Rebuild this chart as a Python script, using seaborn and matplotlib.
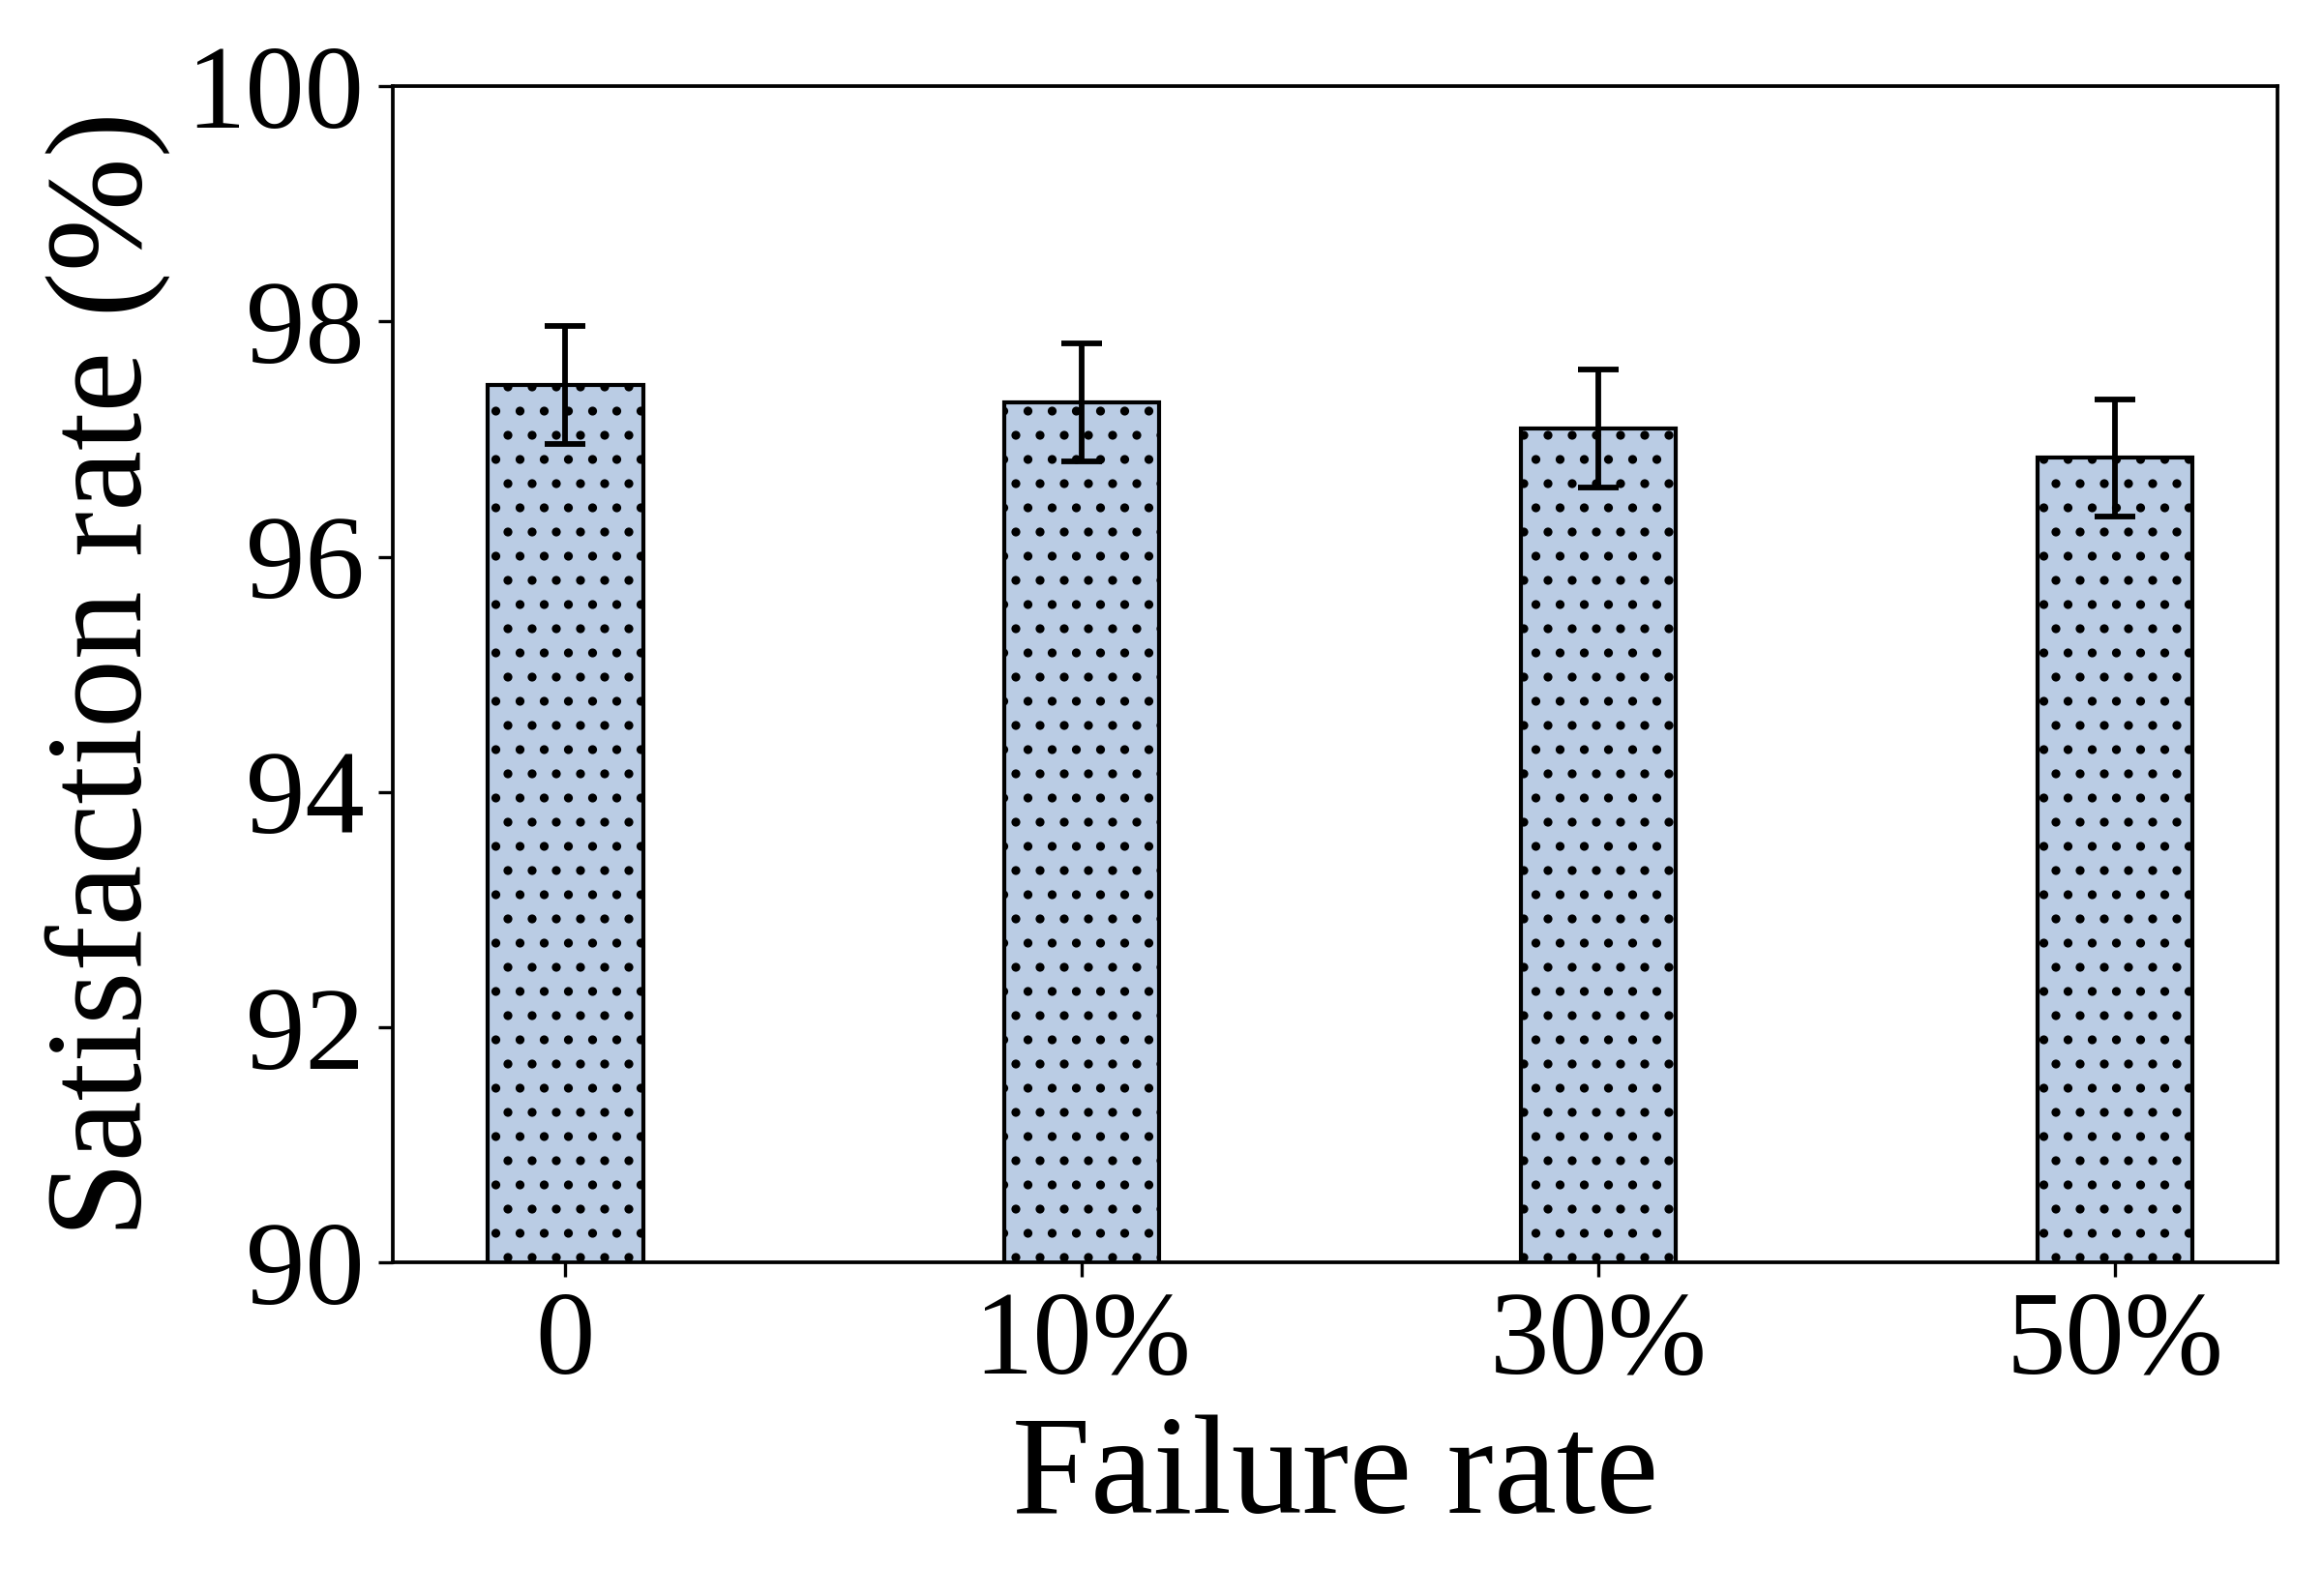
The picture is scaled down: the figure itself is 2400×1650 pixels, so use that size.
import matplotlib
matplotlib.use("Agg")
import matplotlib.pyplot as plt
import pandas as pd
import seaborn as sns

# Data
failure_rates = ["0", "10%", "30%", "50%"]
satisfaction = [97.46, 97.31, 97.09, 96.84]
errors = [0.50, 0.50, 0.50, 0.50]

df = pd.DataFrame({"Failure rate": failure_rates, "Satisfaction rate (%)": satisfaction})

sns.set_style("ticks")
plt.rcParams["font.family"] = ["Liberation Serif", "DejaVu Serif"]
plt.rcParams["hatch.linewidth"] = 1.0
plt.rcParams["text.color"] = "black"
plt.rcParams["axes.labelcolor"] = "black"
plt.rcParams["xtick.color"] = "black"
plt.rcParams["ytick.color"] = "black"

fig, ax = plt.subplots(figsize=(8, 5.5), dpi=300)
fig.subplots_adjust(left=0.169, right=0.981, top=0.946, bottom=0.209)

sns.barplot(data=df, x="Failure rate", y="Satisfaction rate (%)", ax=ax,
            width=0.3, color="#bacce4", saturation=1, edgecolor="black",
            linewidth=1.0, hatch="..", errorbar=None)

# error bars on the bar positions
ax.errorbar(x=ax.get_xticks(), y=satisfaction, yerr=errors, fmt="none",
            ecolor="black", elinewidth=1.4, capsize=5, capthick=1.4)

ax.set_xlim(-0.335, 3.315)
ax.set_ylim(90, 100)
ax.set_yticks([90, 92, 94, 96, 98, 100])
ax.tick_params(axis="both", labelsize=29.5, length=3.5, width=0.8,
               color="black", labelcolor="black")
ax.set_xlabel("Failure rate", fontsize=35, color="black")
ax.set_ylabel("Satisfaction rate (%)", fontsize=34, color="black")
for s in ax.spines.values():
    s.set_visible(True)
    s.set_linewidth(0.9)
    s.set_color("black")

fig.savefig("out.png", dpi=300)
